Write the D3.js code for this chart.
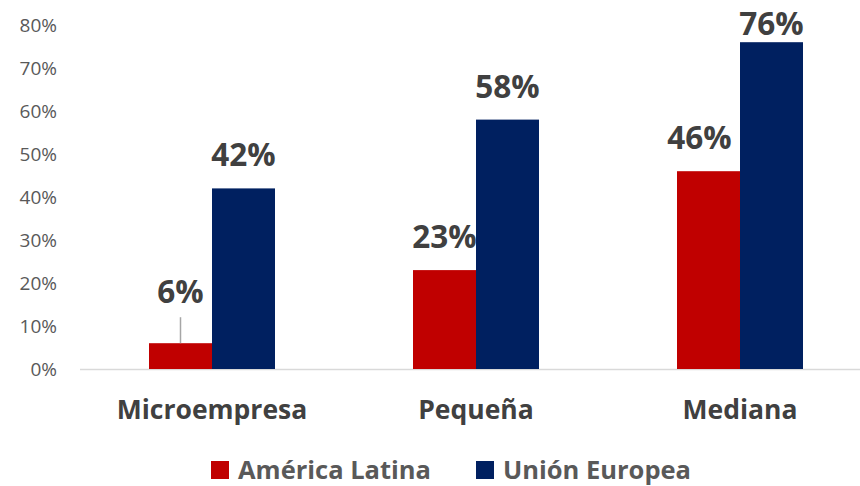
<!DOCTYPE html>
<html><head><meta charset="utf-8">
<script src="https://cdn.jsdelivr.net/npm/d3@7"></script>
<style>body{margin:0;background:#fff}svg{display:block}</style>
</head><body>
<svg id="c" width="860" height="486"></svg>
<script>
const categories = ["Microempresa", "Pequeña", "Mediana"];
const seriesNames = ["América Latina", "Unión Europea"];
const americaLatina = [6, 23, 46];
const unionEuropea = [42, 58, 76];
const yTicks = [0, 10, 20, 30, 40, 50, 60, 70, 80];
const colors = ["#C00000", "#002060"];

const svg = d3.select("#c");
const font = "'Open Sans', 'Liberation Sans', sans-serif";
const x = d3.scaleBand().domain(categories).range([80, 872]).paddingInner(0).paddingOuter(0);
const y = d3.scaleLinear().domain([0, 80]).range([369, 25]);
const inner = d3.scaleBand().domain(seriesNames).range([0, 126]);
const groupOffset = (x.bandwidth() - 126) / 2;
const series = [americaLatina, unionEuropea];

// y axis labels
const yAxis = d3.axisLeft(y).tickValues(yTicks).tickFormat(d => d + "%").tickSize(0).tickPadding(0);
const ya = svg.append("g").attr("transform", "translate(57,0)").call(yAxis);
ya.select(".domain").remove();
ya.selectAll("text").attr("font-family", font).attr("font-size", 19).attr("fill", "#595959").attr("dy", "0.36em");

// baseline
svg.append("line").attr("x1", 80).attr("x2", 860).attr("y1", y(0)+0.5).attr("y2", y(0)+0.5)
  .attr("stroke", "#d9d9d9").attr("stroke-width", 1.5);

const data = [];
categories.forEach((c, i) => seriesNames.forEach((s, j) => data.push({c, s, j, i, v: series[j][i]})));

svg.append("g").selectAll("rect").data(data).join("rect")
  .attr("x", d => x(d.c) + groupOffset + inner(d.s))
  .attr("width", inner.bandwidth())
  .attr("y", d => y(d.v))
  .attr("height", d => y(0) - y(d.v))
  .attr("fill", d => colors[d.j]);

// value labels (Excel-like placement: above the bar, clamped to the top, small one lifted with a leader)
const barCx = d => x(d.c) + groupOffset + inner(d.s) + inner.bandwidth()/2;
const lift = d => (d.v < 10 ? 18 : 0);
const labelY = d => Math.max(y(d.v) - 22 - lift(d), 35);
const labelDx = d => (d.j === 0 && d.i === 2 ? -9 : 0);
svg.append("g").selectAll("text").data(data).join("text")
  .attr("x", d => barCx(d) + labelDx(d))
  .attr("y", labelY)
  .attr("text-anchor", "middle")
  .attr("font-family", font).attr("font-weight", 700).attr("font-size", 31.5)
  .attr("fill", "#404040")
  .text(d => d.v + "%");

svg.append("g").selectAll("line").data(data.filter(d => lift(d) > 0)).join("line")
  .attr("x1", barCx).attr("x2", barCx)
  .attr("y1", d => labelY(d) + 14)
  .attr("y2", d => y(d.v))
  .attr("stroke", "#a6a6a6").attr("stroke-width", 1.5);

// category labels
const xAxis = d3.axisBottom(x).tickSize(0).tickPadding(0);
const xa = svg.append("g").attr("transform", "translate(0,419)").call(xAxis);
xa.select(".domain").remove();
xa.selectAll("text").attr("font-family", font).attr("font-size", 26.5).attr("font-weight", 700)
  .attr("fill", "#404040").attr("dy", 0);

// legend
const legendX = [211, 476];
const lg = svg.append("g").selectAll("g").data(seriesNames).join("g")
  .attr("transform", (d, i) => `translate(${legendX[i]},461)`);
lg.append("rect").attr("width", 18).attr("height", 18).attr("fill", (d, i) => colors[i]);
lg.append("text").attr("x", 27).attr("y", 18).attr("font-family", font).attr("font-size", 25.5)
  .attr("font-weight", 700).attr("fill", "#595959").text(d => d);
</script>
</body></html>
